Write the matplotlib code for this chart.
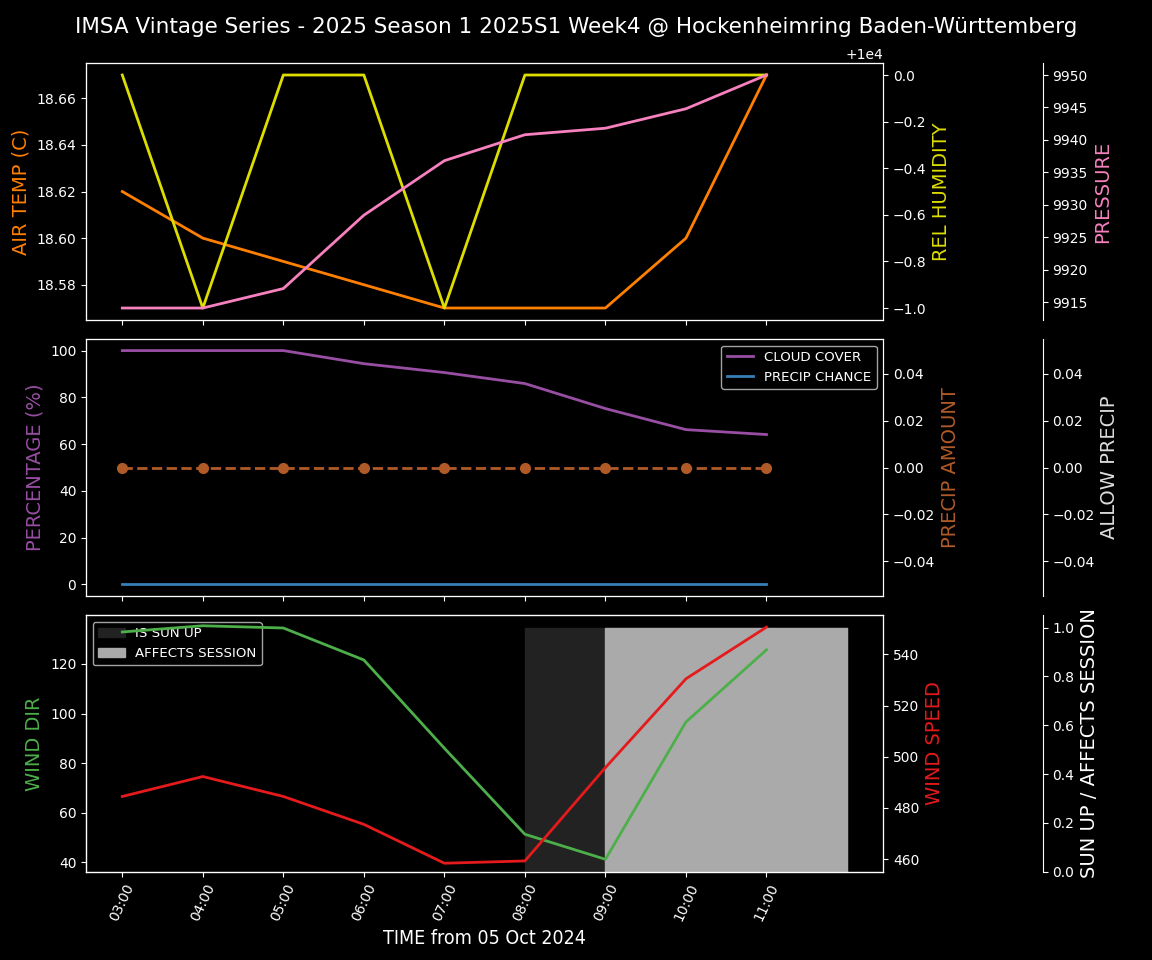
import numpy as np
import matplotlib.pyplot as plt

plt.style.use('dark_background')

# hourly samples, 05 Oct 2024
hours = [3, 4, 5, 6, 7, 8, 9, 10, 11]
hour_labels = ['03:00', '04:00', '05:00', '06:00', '07:00', '08:00', '09:00', '10:00', '11:00']

air_temp = [18.62, 18.60, 18.59, 18.58, 18.57, 18.57, 18.57, 18.60, 18.67]
rel_humidity = [10000, 9999, 10000, 10000, 9999, 10000, 10000, 10000, 10000]
pressure = [9914.1, 9914.1, 9917.1, 9928.4, 9936.8, 9940.8, 9941.8, 9944.8, 9950.0]

cloud_cover = [100, 100, 100, 94.4, 90.6, 85.9, 75.2, 66.2, 64.1]
precip_chance = [0, 0, 0, 0, 0, 0, 0, 0, 0]
precip_amount = [0, 0, 0, 0, 0, 0, 0, 0, 0]

wind_dir = [132.9, 135.4, 134.5, 121.6, 86.0, 51.3, 41.2, 96.6, 125.7]
wind_speed = [484.5, 492.3, 484.5, 473.6, 458.4, 459.3, 495.8, 530.5, 550.7]

# sun up / affects session as step intervals (start hour, end hour)
sun_hours = [8, 9, 10, 11, 12]
sun_up = [1, 1, 1, 1, 1]
affects_hours = [9, 10, 11, 12]
affects_session = [1, 1, 1, 1]

fig = plt.figure(figsize=(11.52, 9.6), dpi=100)
fig.patch.set_facecolor('black')
fig.suptitle('IMSA Vintage Series - 2025 Season 1 2025S1 Week4 @ Hockenheimring Baden-Württemberg',
             fontsize=15.5, y=0.982)

left, width = 0.0747, 0.692
ax1 = fig.add_axes([left, 0.667, width, 0.267])
ax2 = fig.add_axes([left, 0.379, width, 0.268], sharex=ax1)
ax3 = fig.add_axes([left, 0.092, width, 0.267], sharex=ax1)

# --- top panel
ax1.plot(hours, air_temp, color='#ff7f00', lw=2)
ax1.set_ylabel('AIR TEMP (C)', color='#ff7f00', fontsize=14)
ax1b = ax1.twinx()
ax1b.plot(hours, rel_humidity, color='#dddd00', lw=2)
ax1b.set_ylabel('REL HUMIDITY', color='#dddd00', fontsize=14)
ax1c = ax1.twinx()
ax1c.spines['right'].set_position(('axes', 1.2))
ax1c.plot(hours, pressure, color='#f781bf', lw=2)
ax1c.set_ylabel('PRESSURE', color='#f781bf', fontsize=14)
ax1.set_yticks([18.58, 18.60, 18.62, 18.64, 18.66])

# --- middle panel
ax2.plot(hours, cloud_cover, color='#984ea3', lw=2, label='CLOUD COVER')
ax2.plot(hours, precip_chance, color='#377eb8', lw=2, label='PRECIP CHANCE')
ax2.set_ylabel('PERCENTAGE (%)', color='#984ea3', fontsize=14)
ax2.legend(loc='upper right', fontsize=9.6)
ax2b = ax2.twinx()
ax2b.plot(hours, precip_amount, color='#b05a28', lw=2, ls='--', marker='o', ms=7)
ax2b.set_ylabel('PRECIP AMOUNT', color='#b05a28', fontsize=14)
ax2b.set_ylim(-0.055, 0.055)
ax2c = ax2.twinx()
ax2c.spines['right'].set_position(('axes', 1.2))
ax2c.set_ylim(-0.055, 0.055)
ax2c.set_ylabel('ALLOW PRECIP', color='#dddddd', fontsize=14)

# --- bottom panel
ax3c = ax3.twinx()
ax3c.spines['right'].set_position(('axes', 1.2))
ax3c.fill_between(sun_hours, sun_up, step='post', color='#222222', label='IS SUN UP')
ax3c.fill_between(affects_hours, affects_session, step='post', color='#aaaaaa', label='AFFECTS SESSION')
ax3c.set_ylim(0, 1.05)
ax3c.set_ylabel('SUN UP / AFFECTS SESSION', color='white', fontsize=14)
ax3c.legend(loc='upper left', fontsize=9.6)

ax3a = ax3.twinx()
ax3a.plot(hours, wind_dir, color='#4daf4a', lw=2)
ax3a.yaxis.set_ticks_position('left')
ax3a.yaxis.set_label_position('left')
ax3a.set_ylabel('WIND DIR', color='#4daf4a', fontsize=14)
ax3a.set_ylim(36.2, 139.6)
ax3.set_yticks([])

ax3b = ax3.twinx()
ax3b.plot(hours, wind_speed, color='#e41a1c', lw=2)
ax3b.set_ylabel('WIND SPEED', color='#e41a1c', fontsize=14)
ax3b.set_ylim(455.1, 555.3)

ax3.set_xlim(2.55, 12.45)
ax3.set_xticks(hours)
ax3.set_xticklabels(hour_labels, rotation=65)
for ax in (ax1, ax2):
    plt.setp(ax.get_xticklabels(), visible=False)
ax3.set_xlabel('TIME from 05 Oct 2024', fontsize=14, fontstretch='condensed')

for ax in fig.axes:
    if ax in (ax1, ax2, ax3):
        ax.set_facecolor('black')
    else:
        ax.patch.set_alpha(0)

fig.savefig('out.png', dpi=100, facecolor='black')
